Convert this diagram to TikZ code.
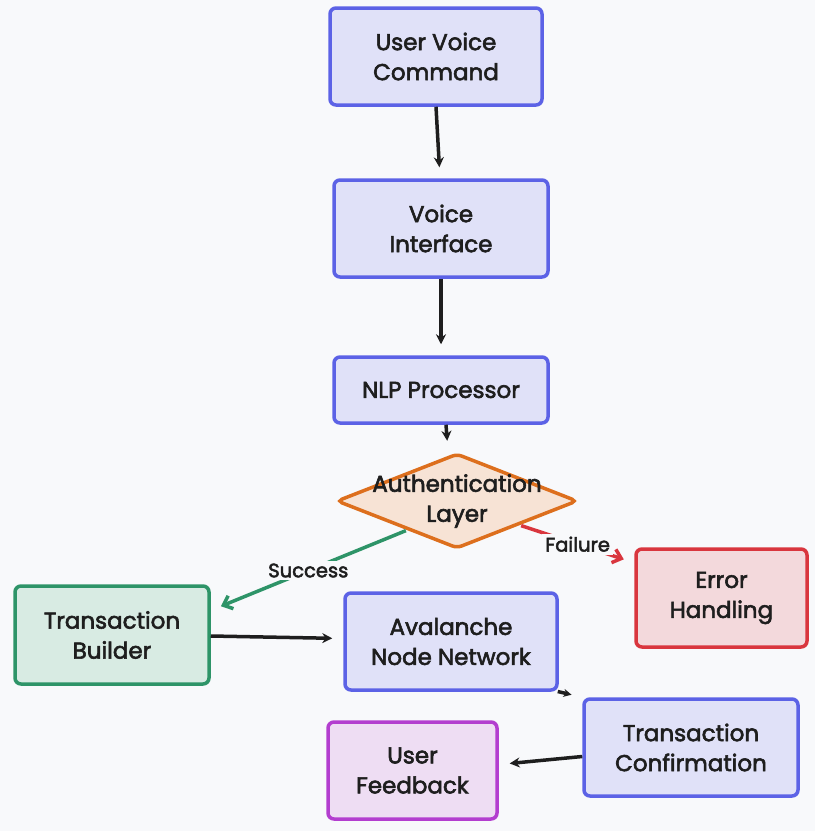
\documentclass[tikz,border=0pt]{standalone}
\usepackage{fontspec}
\setmainfont{Poppins}[FakeBold=2.5]
\usetikzlibrary{shapes.geometric,arrows.meta}
\definecolor{bgc}{HTML}{F8F9FB}
\definecolor{bluef}{HTML}{E0E1F8}
\definecolor{blued}{HTML}{5C62E6}
\definecolor{greenf}{HTML}{D8EBE3}
\definecolor{greend}{HTML}{2E9468}
\definecolor{redf}{HTML}{F3D9DC}
\definecolor{redd}{HTML}{D9363E}
\definecolor{orangef}{HTML}{F7E3D5}
\definecolor{oranged}{HTML}{DD6F1D}
\definecolor{purplef}{HTML}{EEDDF3}
\definecolor{purpled}{HTML}{B33ECF}
\definecolor{ink}{HTML}{1E1E1E}
\tikzset{
  box/.style={draw, rounded corners=6pt, line width=3.5pt, inner sep=0pt, align=center,
    text=ink, font=\fontsize{23}{30}\selectfont},
  bluebox/.style={box, draw=blued, fill=bluef},
  greenbox/.style={box, draw=greend, fill=greenf},
  redbox/.style={box, draw=redd, fill=redf},
  purplebox/.style={box, draw=purpled, fill=purplef},
  conn/.style={draw=ink, line width=3.5pt, -{Stealth[length=10pt,width=10pt]}, shorten >=11pt},
  lbl/.style={fill=bgc, text=ink, inner sep=3pt, font=\fontsize{19.5}{22}\selectfont},
}
\begin{document}
\begin{tikzpicture}[x=1pt,y=-1pt]
\fill[bgc] (0,0) rectangle (815,831);
\useasboundingbox (0,0) rectangle (815,831);

\node[bluebox, minimum width=212pt, minimum height=97pt] (uvc) at (436,56.5) {User Voice\\Command};
\node[bluebox, minimum width=214pt, minimum height=97pt] (vi) at (441,228.5) {Voice\\Interface};
\node[bluebox, minimum width=214pt, minimum height=66pt] (nlp) at (441,390) {NLP Processor};
\node[diamond, draw=oranged, fill=orangef, line width=3.5pt, rounded corners=5pt, inner sep=0pt,
  minimum width=241pt, minimum height=95pt, aspect=2.54] (auth) at (457,501) {};
\node[align=center, text=ink, font=\fontsize{23}{30}\selectfont] (authtxt) at (457,501) {Authentication\\Layer};
\node[redbox, minimum width=171pt, minimum height=98pt] (err) at (721.5,598) {Error\\Handling};
\node[greenbox, minimum width=194pt, minimum height=98pt] (tb) at (112,635) {Transaction\\Builder};
\node[bluebox, minimum width=212pt, minimum height=97pt] (ann) at (451,641.5) {Avalanche\\Node Network};
\node[bluebox, minimum width=214pt, minimum height=97pt] (tc) at (691,747.5) {Transaction\\Confirmation};
\node[purplebox, minimum width=169pt, minimum height=97pt] (uf) at (412.5,770.5) {User\\Feedback};

\draw[conn] (uvc.south) -- ([xshift=-1pt]vi.north);
\draw[conn] (vi.south) -- (nlp.north);
\draw[conn] ([xshift=5pt]nlp.south) -- ([xshift=-9pt]auth.north);
\draw[draw=greend, line width=3.5pt, -{Straight Barb[length=8pt,width=14pt]}, shorten >=11pt]
  ([xshift=10pt,yshift=-5pt]auth.south west) -- node[lbl, pos=0.5] {Success} (tb.14);
\draw[draw=redd, line width=3.5pt, -{Straight Barb[length=8pt,width=14pt]}, shorten >=11pt]
  ([xshift=3pt]auth.south east) -- node[lbl, pos=0.5] {Failure} (err.158);
\draw[conn] ([yshift=-1pt]tb.east) -- ([yshift=3pt]ann.west);
\draw[draw=ink, line width=3.5pt, -{Stealth[length=8pt,width=8pt]}, shorten >=11pt, shorten <=-1pt]
  (ann.south east) -- (tc.north west);
\draw[conn] ([yshift=-9pt]tc.west) -- ([yshift=6pt]uf.east);
\end{tikzpicture}
\end{document}
